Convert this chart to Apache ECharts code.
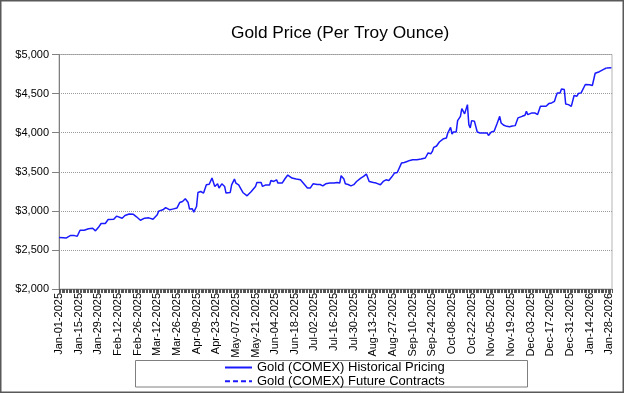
<!DOCTYPE html>
<html>
<head>
<meta charset="utf-8">
<script src="https://cdn.jsdelivr.net/npm/echarts@6/dist/echarts.min.js"></script>
<style>
html,body{margin:0;padding:0;background:#fff;}
#chart{width:624px;height:393px;}
</style>
</head>
<body>
<div id="chart"></div>
<script>
// Category axis: every calendar day from this start date
const startDate = '2025-01-01';
const dayCount = 395;
const monthNames = ['Jan','Feb','Mar','Apr','May','Jun','Jul','Aug','Sep','Oct','Nov','Dec'];

// Historical pricing: day offset from start date and price (USD)
const histDay = [0,3,5,8,9,11,13,15,18,21,24,26,28,30,33,35,36,39,41,42,45,47,50,53,55,58,59,61,64,67,70,71,74,76,79,81,84,86,88,90,92,93,95,96,98,99,101,103,105,107,108,109,110,111,113,114,116,117,118,119,122,123,125,126,128,129,131,132,134,135,137,140,141,144,145,147,150,151,153,155,156,159,161,163,166,169,172,174,175,177,179,181,184,186,188,190,193,196,198,200,201,203,204,206,208,210,212,213,215,217,219,220,221,224,226,229,231,233,235,237,239,241,242,244,246,248,250,252,255,256,258,259,261,262,263,265,266,267,269,271,272,274,276,277,279,280,281,283,284,286,287,289,290,291,292,293,294,296,298,300,302,303,305,306,308,310,312,313,314,315,317,319,321,323,325,326,327,330,332,333,334,337,339,341,342,343,345,347,349,351,353,354,355,357,358,360,361,363,365,366,367,369,370,372,373,375,376,378,380,381,382,385,386,388,390];
const histPrice = [2658,2655,2652,2683,2700,2683,2675,2752,2752,2770,2778,2744,2786,2838,2838,2889,2880,2893,2932,2914,2906,2940,2960,2955,2927,2880,2855,2906,2910,2893,2949,2996,3013,3042,3013,3022,3035,3106,3119,3154,3106,3022,3026,2983,3055,3235,3247,3227,3335,3340,3350,3419,3414,3312,3346,3291,3346,3329,3312,3227,3235,3333,3406,3355,3333,3320,3235,3227,3192,3183,3247,3312,3363,3363,3312,3329,3329,3389,3376,3397,3355,3355,3410,3458,3419,3406,3397,3355,3346,3291,3291,3346,3337,3337,3320,3346,3355,3355,3363,3355,3449,3406,3346,3337,3320,3335,3375,3389,3419,3440,3470,3462,3376,3363,3355,3333,3376,3397,3389,3432,3483,3491,3504,3611,3619,3632,3645,3654,3654,3679,3663,3654,3676,3676,3740,3731,3760,3812,3830,3881,3889,3923,3932,3996,4068,3983,4009,4009,4154,4209,4308,4240,4240,4359,4103,4060,4154,4145,4009,3996,3996,4009,3996,3965,4009,4017,4112,4137,4209,4124,4094,4081,4075,4085,4090,4099,4189,4209,4222,4274,4231,4253,4253,4231,4244,4337,4337,4337,4372,4380,4401,4458,4509,4509,4560,4552,4368,4359,4337,4337,4475,4466,4500,4509,4509,4616,4628,4612,4603,4603,4760,4780,4793,4810,4827];

// Future contracts
const futureDay = [390, 394];
const futurePrice = [4827, 4830];

const seriesNames = ['Gold (COMEX) Historical Pricing', 'Gold (COMEX) Future Contracts'];

// y-axis ticks
const yTicks = [2000, 2500, 3000, 3500, 4000, 4500, 5000];

function pad2(n){ return (n < 10 ? '0' : '') + n; }
const categories = [];
(function(){
  const p = startDate.split('-').map(Number);
  for (let i = 0; i < dayCount; i++) {
    const d = new Date(Date.UTC(p[0], p[1]-1, p[2] + i));
    categories.push(monthNames[d.getUTCMonth()] + '-' + pad2(d.getUTCDate()) + '-' + d.getUTCFullYear());
  }
})();

const histData = histDay.map((d, i) => [d, histPrice[i]]);
const futureData = futureDay.map((d, i) => [d, futurePrice[i]]);

const chart = echarts.init(document.getElementById('chart'), null, {renderer: 'canvas'});
const FONT = 'Liberation Sans, Arial, sans-serif';

chart.setOption({
  animation: false,
  backgroundColor: '#ffffff',
  textStyle: {fontFamily: FONT},
  title: {
    text: 'Gold Price (Per Troy Ounce)',
    left: 231,
    top: 25,
    padding: 0,
    textStyle: {fontFamily: FONT, fontSize: 17.3, fontWeight: 'normal', color: '#000'}
  },
  grid: {left: 59, right: 12, top: 54.5, bottom: 104, show: true, borderColor: '#b4b4b4', borderWidth: 1, backgroundColor: '#fff'},
  legend: {
    orient: 'vertical',
    left: 224,
    top: 361,
    padding: 0,
    itemGap: 0.7,
    itemWidth: 27,
    itemHeight: 12,
    itemStyle: {opacity: 0},
    textStyle: {fontFamily: FONT, fontSize: 13, color: '#000', lineHeight: 12},
    data: seriesNames
  },
  xAxis: {
    type: 'category',
    data: categories,
    boundaryGap: false,
    axisLine: {lineStyle: {color: '#808080', width: 1}},
    axisTick: {interval: 0, length: 4, lineStyle: {color: '#555'}},
    axisLabel: {interval: 13, rotate: 90, fontSize: 11, color: '#000', margin: 4, fontFamily: FONT},
    splitLine: {show: false}
  },
  yAxis: {
    type: 'value',
    min: yTicks[0],
    max: yTicks[yTicks.length - 1],
    interval: 500,
    axisLine: {show: true, lineStyle: {color: '#808080'}},
    axisTick: {show: true, inside: false, length: 7, lineStyle: {color: '#808080'}},
    axisLabel: {fontSize: 11, color: '#000', margin: 10, fontFamily: FONT,
      formatter: v => '$' + v.toLocaleString('en-US')},
    splitLine: {show: true, lineStyle: {color: '#9a9a9a', type: [1, 1], width: 1}}
  },
  graphic: [
    {type: 'rect', shape: {x: 0.75, y: 0.75, width: 622.5, height: 391.5}, style: {fill: 'none', stroke: '#595959', lineWidth: 1.5}, z: 100},
    {type: 'rect', shape: {x: 135.5, y: 360.5, width: 392, height: 26.5}, style: {fill: '#fff', stroke: '#7f7f7f', lineWidth: 1}, z: -1}
  ],
  series: [
    {name: seriesNames[0], type: 'line', data: histData, symbol: 'none', lineStyle: {color: '#1a1aff', width: 1.5}, itemStyle: {color: '#1a1aff'}},
    {name: seriesNames[1], type: 'line', data: futureData, symbol: 'none', lineStyle: {color: '#1a1aff', width: 1.5, type: [5, 3]}, itemStyle: {color: '#1a1aff'}}
  ]
});
</script>
</body>
</html>
